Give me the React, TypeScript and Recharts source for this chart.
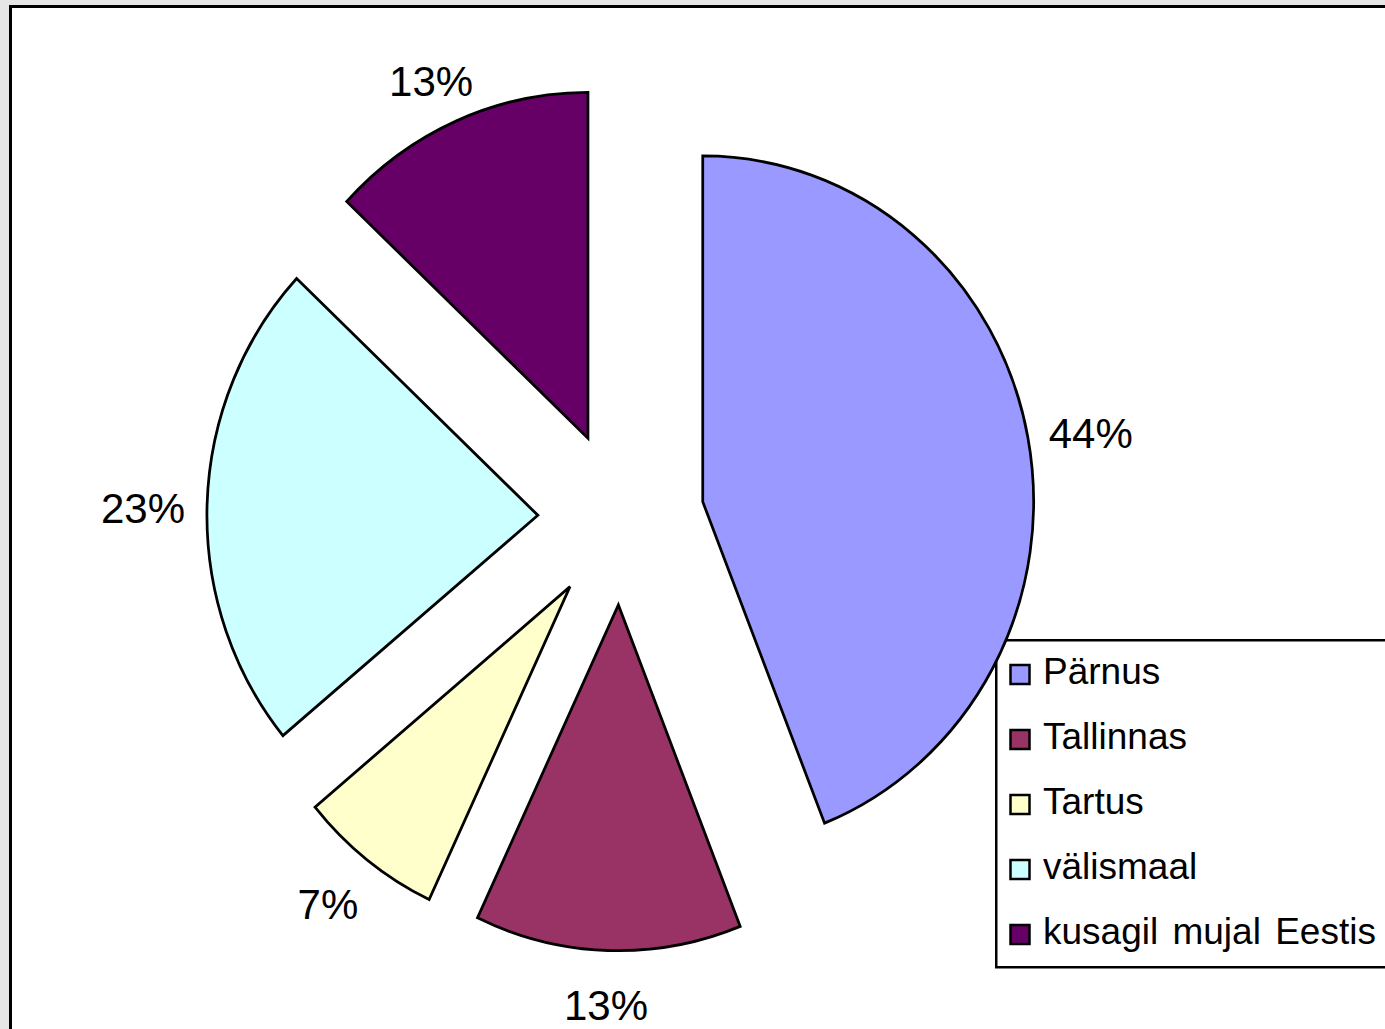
import React from 'react';
import { PieChart, Pie, Cell, Legend } from 'recharts';

const categories = ['Pärnus', 'Tallinnas', 'Tartus', 'välismaal', 'kusagil mujal Eestis'];
const values = [44, 13, 7, 23, 13];
const colors = ['#9999FF', '#993366', '#FFFFCC', '#CCFFFF', '#660066'];

const data = categories.map((name, i) => ({ name, value: values[i] }));

const W = 1385;
const H = 1029;
const CX = 621;
const CY = 518;
const R = 338;
const SX = 0.979;
const SY = 1.023;
const EXPLODE = 85;
const LABEL_R = 395;
const LABEL_DY = 6;
const START = 90;
const END = -270;
const RAD = Math.PI / 180;
const FONT = '"Liberation Sans", Arial, sans-serif';

const total = values.reduce((a, b) => a + b, 0);
const midAngles = values.map((v, i) => {
  const before = values.slice(0, i).reduce((a, b) => a + b, 0);
  return START + ((END - START) * (before + v / 2)) / total;
});

const makeLabel = (i: number) => (props: any) => {
  if (props.index !== i) return <g />;
  const { cx, cy, midAngle, percent } = props;
  const ax = CX + (cx - CX) * SX;
  const ay = CY + (cy - CY) * SY;
  const tx = ax + LABEL_R * Math.cos(-midAngle * RAD);
  const ty = ay + LABEL_R * Math.sin(-midAngle * RAD) + LABEL_DY;
  const ux = CX + (tx - CX) / SX;
  const uy = CY + (ty - CY) / SY;
  return (
    <text
      transform={`translate(${ux},${uy}) scale(${1 / SX},${1 / SY})`}
      x={0}
      y={0}
      textAnchor="middle"
      dominantBaseline="central"
      fontSize={42}
      fontFamily={FONT}
      fill="#000"
    >
      {`${Math.round(percent * 100)}%`}
    </text>
  );
};

const renderLegend = () => (
  <svg width={440} height={332} style={{ display: 'block' }}>
    <rect x={1.25} y={1.25} width={437.5} height={327} fill="#fff" stroke="#000" strokeWidth={2.5} />
    {categories.map((c, i) => (
      <g key={c}>
        <rect
          x={15.5}
          y={26 + 65 * i}
          width={19}
          height={19}
          fill={colors[i]}
          stroke="#000"
          strokeWidth={2.5}
        />
        <text
          x={48}
          y={45 + 65 * i}
          fontSize={37}
          wordSpacing={4}
          fontFamily={FONT}
          fill="#000"
        >
          {c}
        </text>
      </g>
    ))}
  </svg>
);

export default function App() {
  return (
    <div
      style={{
        position: 'absolute',
        left: 0,
        top: 0,
        width: W,
        height: H,
        background: '#e6e6e6',
        overflow: 'hidden',
      }}
    >
      <style>{`.pie-scaled svg.recharts-surface { transform: scale(${SX}, ${SY}); transform-origin: ${CX}px ${CY}px; }`}</style>
      <div
        style={{
          position: 'absolute',
          left: 9,
          top: 5,
          width: W + 50,
          height: H + 50,
          border: '3px solid #000',
          background: '#fff',
        }}
      />
      <div className="pie-scaled" style={{ position: 'absolute', left: 0, top: 0 }}>
        <PieChart width={W} height={H} margin={{ top: 0, right: 0, bottom: 0, left: 0 }}>
          {values.map((_, i) => (
            <Pie
              key={`pie-${i}`}
              data={data}
              dataKey="value"
              nameKey="name"
              cx={CX + EXPLODE * Math.cos(-midAngles[i] * RAD)}
              cy={CY + EXPLODE * Math.sin(-midAngles[i] * RAD)}
              outerRadius={R}
              innerRadius={0}
              startAngle={START}
              endAngle={END}
              isAnimationActive={false}
              labelLine={false}
              label={makeLabel(i)}
              legendType="none"
            >
              {data.map((d, j) => (
                <Cell
                  key={`cell-${i}-${j}`}
                  fill={j === i ? colors[j] : 'none'}
                  stroke={j === i ? '#000' : 'none'}
                  strokeWidth={j === i ? 2.8 : 0}
                />
              ))}
            </Pie>
          ))}
          <Legend
            layout="vertical"
            align="center"
            verticalAlign="middle"
            content={renderLegend}
            wrapperStyle={{ left: 995, top: 639, width: 440, height: 332 }}
          />
        </PieChart>
      </div>
    </div>
  );
}
